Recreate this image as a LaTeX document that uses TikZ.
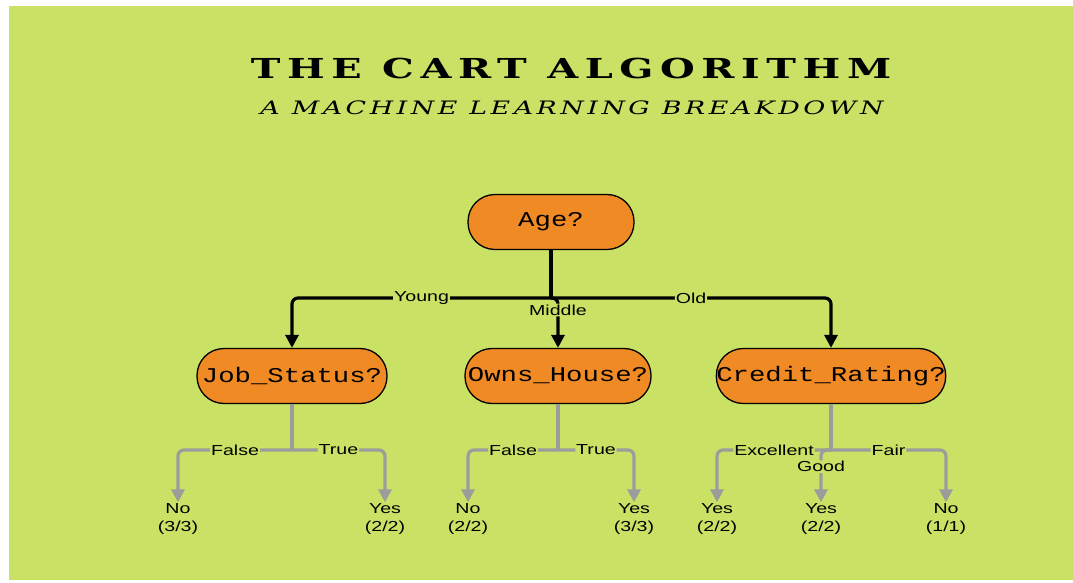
\documentclass[tikz,border=0pt]{standalone}
\usepackage{fontspec}
\setmainfont{Liberation Sans}
\newfontfamily\headfont[LetterSpace=24,FakeStretch=1.45]{DejaVu Serif}
\newfontfamily\subheadfont[LetterSpace=19,FakeStretch=1.45]{DejaVu Serif}
\newfontfamily\boxfont[FakeStretch=1.3]{Liberation Mono}
\newfontfamily\labelfont[FakeStretch=1.35]{Liberation Sans}
\usepackage{xcolor}
\usetikzlibrary{arrows.meta,positioning,calc}

\definecolor{cartgreen}{HTML}{C9E265}
\definecolor{cartorange}{HTML}{F08A24}
\definecolor{cartgrey}{HTML}{9C9C9C}

\begin{document}
\begin{tikzpicture}[x=1pt,y=-1pt]
  \tikzstyle{qnode}=[rectangle, rounded corners=27pt, draw=black, line width=1.3pt, fill=cartorange, minimum height=55pt, inner sep=0pt, font=\boxfont\fontsize{21}{21}\selectfont]
  \tikzstyle{leaf}=[align=center, inner sep=1pt, font=\labelfont\fontsize{14.5}{18}\selectfont]
  \tikzstyle{lab}=[fill=cartgreen, inner sep=1pt, font=\labelfont\fontsize{14.5}{16}\selectfont]
  \tikzstyle{mainedge}=[line width=3.2pt, rounded corners=6pt, -{Triangle[length=13pt,width=13pt]}]
  \tikzstyle{subedge}=[mainedge, draw=cartgrey]

  \useasboundingbox (0,0) rectangle (1073,583);
  \fill[cartgreen] (9,6) rectangle (1073,580);

  % heading
  \node (title) at (571,68) {\headfont\bfseries\fontsize{27.5}{27.5}\selectfont THE CART ALGORITHM};
  \node (subtitle) at (572,108) {\subheadfont\itshape\fontsize{18.5}{18.5}\selectfont A MACHINE LEARNING BREAKDOWN};

  % split nodes
  \node[qnode, minimum width=166pt] (age) at (551,222) {Age?};
  \node[qnode, minimum width=190pt] (job) at (292,376) {Job\_Status?};
  \node[qnode, minimum width=186pt] (owns) at (558,376) {Owns\_House?};
  \node[qnode, minimum width=229pt] (credit) at (831,376) {Credit\_Rating?};

  % leaves
  \node[leaf] (jobno) at (178,519) {No\\(3/3)};
  \node[leaf] (jobyes) at (385,519) {Yes\\(2/2)};
  \node[leaf] (ownsno) at (468,519) {No\\(2/2)};
  \node[leaf] (ownsyes) at (634,519) {Yes\\(3/3)};
  \node[leaf] (credexc) at (717,519) {Yes\\(2/2)};
  \node[leaf] (credgood) at (821,519) {Yes\\(2/2)};
  \node[leaf] (credfair) at (946,519) {No\\(1/1)};

  % branch points
  \coordinate (agesplit) at (551,298);
  \coordinate (jobsplit) at (292,450);
  \coordinate (ownssplit) at (558,450);
  \coordinate (credsplit) at (831,450);

  % first level
  \draw[mainedge, -] (age) -- (agesplit);
  \draw[mainedge] (agesplit) -| node[lab, pos=0.25] {Young} (job);
  \draw[mainedge] (agesplit) -| node[lab, pos=0.62] {Middle} (owns);
  \draw[mainedge] (agesplit) -| node[lab, pos=0.25] {Old} (credit);

  % second level
  \draw[subedge, -] (job) -- (jobsplit);
  \draw[subedge] (jobsplit) -| node[lab, pos=0.25] {False} (jobno);
  \draw[subedge] (jobsplit) -| node[lab, pos=0.25] {True} (jobyes);

  \draw[subedge, -] (owns) -- (ownssplit);
  \draw[subedge] (ownssplit) -| node[lab, pos=0.25] {False} (ownsno);
  \draw[subedge] (ownssplit) -| node[lab, pos=0.25] {True} (ownsyes);

  \draw[subedge, -] (credit) -- (credsplit);
  \draw[subedge] (credsplit) -| node[lab, pos=0.25] {Excellent} (credexc);
  \draw[subedge] (credsplit) -| node[lab, pos=0.66] {Good} (credgood);
  \draw[subedge] (credsplit) -| node[lab, pos=0.25] {Fair} (credfair);
\end{tikzpicture}
\end{document}
